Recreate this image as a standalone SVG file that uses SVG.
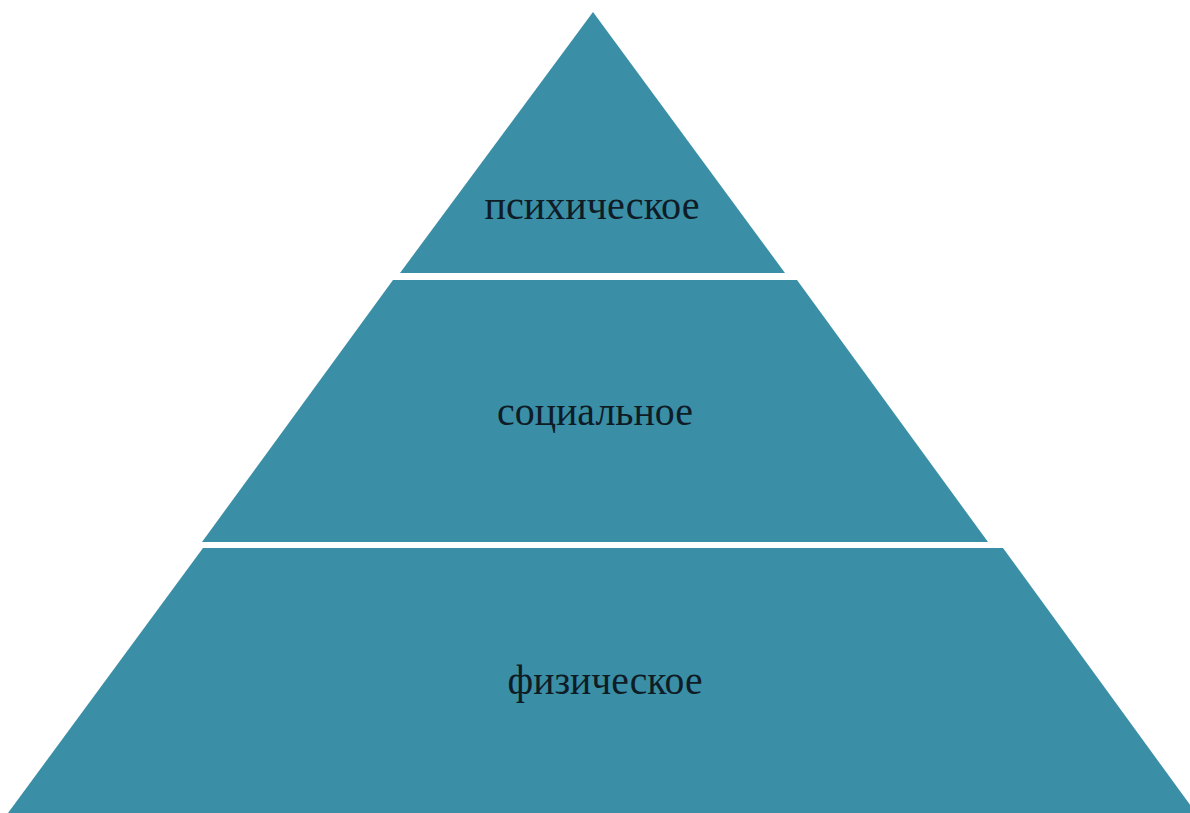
<svg xmlns="http://www.w3.org/2000/svg" width="1190" height="813" viewBox="0 0 1190 813">
<style>
.seg{fill:#3A8FA7}
.lbl{font-family:"Liberation Serif","Times New Roman",serif;font-size:43px;fill:#0F1C26;text-anchor:middle}
</style>
<rect width="1190" height="813" fill="#FFFFFF"/>
<g id="top">
<polygon class="seg" points="593,12 785,273 400,273"/>
<text class="lbl" x="592" y="219" textLength="215" lengthAdjust="spacingAndGlyphs">психическое</text>
</g>
<g id="middle">
<polygon class="seg" points="393,280 797,280 988,542 202,542"/>
<text class="lbl" x="595" y="425" textLength="196" lengthAdjust="spacingAndGlyphs">социальное</text>
</g>
<g id="bottom">
<polygon class="seg" points="203,548 1003,548 1196,813 8,813"/>
<text class="lbl" x="605" y="694" textLength="195" lengthAdjust="spacingAndGlyphs">физическое</text>
</g>
</svg>
